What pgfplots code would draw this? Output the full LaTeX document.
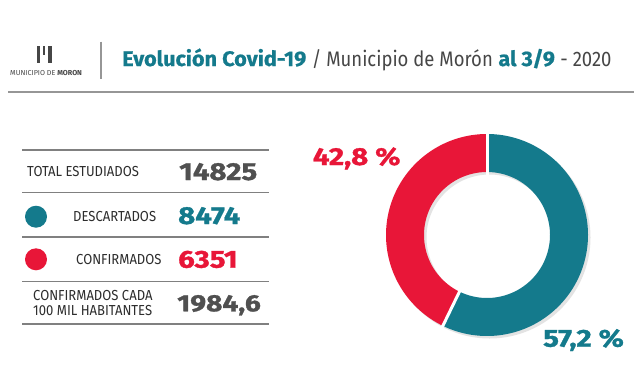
\documentclass[border=0pt]{standalone}
\usepackage{pgfplots}
\pgfplotsset{compat=1.18}
\usepackage{pgfplotstable}
\usepackage{fontspec}
\setmainfont{Fira Sans}
\newfontfamily\condfont{Fira Sans}[FakeStretch=0.9]
\newfontfamily\titlereg{Fira Sans}[FakeStretch=0.88]
\newfontfamily\titlebold{Fira Sans}[FakeBold=0.8, FakeStretch=1.03]
\newfontfamily\numfont{Fira Sans}[FakeBold=1.3, FakeStretch=1.2]
\definecolor{tealc}{RGB}{20,122,140}
\definecolor{redc}{RGB}{232,22,56}
\definecolor{numgray}{RGB}{80,80,80}
\definecolor{txtgray}{RGB}{45,45,45}
\definecolor{titlegray}{RGB}{70,70,70}
\definecolor{linegray}{RGB}{150,150,150}

\pgfplotstableread{
name pct
Descartados 57.2
Confirmados 42.8
}\donutdata
\pgfplotstablegetelem{0}{pct}\of\donutdata \let\pA\pgfplotsretval
\pgfmathsetmacro\aEnd{-90+3.6*\pA}

\begin{document}
\begin{tikzpicture}
\begin{axis}[
 scale only axis, width=640pt, height=388pt,
 xmin=0,xmax=640,ymin=0,ymax=388, y dir=reverse,
 hide axis, clip=false,
]
\fill[white] (axis cs:0,0) rectangle (axis cs:640,388);
% logo
\fill[titlegray] (axis cs:37.3,45.7) rectangle (axis cs:40,63.3);
\fill[titlegray] (axis cs:42.7,45.7) rectangle (axis cs:45,55);
\fill[titlegray] (axis cs:48.3,45.7) rectangle (axis cs:51.7,63.3);
\node[anchor=base west, inner sep=0, font=\fontsize{7.2}{8}\selectfont, titlegray] at (axis cs:10,75.7) {MUNICIPIO DE \textbf{MORON}};
\draw[linegray, line width=1.5pt] (axis cs:101,41.7) -- (axis cs:101,79.3);
% title
\node[anchor=base west, inner sep=0, font=\fontsize{21}{24}\selectfont] at (axis cs:122,66) {\textcolor{tealc}{\titlebold\bfseries Evolución Covid-19} \textcolor{titlegray}{\titlereg / Municipio de Morón} \textcolor{tealc}{\titlebold\bfseries al 3/9} \textcolor{titlegray}{\titlereg - 2020}};
\draw[linegray, line width=2pt] (axis cs:8,92) -- (axis cs:634,92);
% table lines
\foreach \yy in {150,192.7,237,281.7,324} {
  \edef\tmp{\noexpand\draw[gray, line width=1.3pt] (axis cs:22,\yy) -- (axis cs:269,\yy);}\tmp
}
\node[anchor=base west, inner sep=0, font=\condfont\fontsize{14.5}{16}\selectfont, txtgray] at (axis cs:27,176.7) {TOTAL ESTUDIADOS};
\node[anchor=base west, inner sep=0, font=\numfont\fontsize{24.5}{26}\selectfont\bfseries, numgray] at (axis cs:179,180) {14825};
\fill[tealc] (axis cs:36,216.7) circle[radius=11pt];
\node[anchor=base west, inner sep=0, font=\condfont\fontsize{14.5}{16}\selectfont, txtgray] at (axis cs:73,221.7) {DESCARTADOS};
\node[anchor=base west, inner sep=0, font=\numfont\fontsize{24.5}{26}\selectfont\bfseries, tealc] at (axis cs:178,224) {8474};
\fill[redc] (axis cs:36,259.3) circle[radius=11pt];
\node[anchor=base west, inner sep=0, font=\condfont\fontsize{14.5}{16}\selectfont, txtgray] at (axis cs:76,264) {CONFIRMADOS};
\node[anchor=base west, inner sep=0, font=\numfont\fontsize{24.5}{26}\selectfont\bfseries, redc] at (axis cs:178,267.7) {6351};
\node[anchor=base west, inner sep=0, font=\condfont\fontsize{14.5}{16}\selectfont, txtgray] at (axis cs:33,300.7) {CONFIRMADOS CADA};
\node[anchor=base west, inner sep=0, font=\condfont\fontsize{14.5}{16}\selectfont, txtgray] at (axis cs:33,315.3) {100 MIL HABITANTES};
\node[anchor=base west, inner sep=0, font=\numfont\fontsize{23.5}{26}\selectfont\bfseries, numgray] at (axis cs:177,311.3) {1984,6};
% donut
\addplot[gray!22, line width=38pt, domain=-90:270, samples=181] ({489.5+82*cos(x)},{237.5+82*sin(x)});
\addplot[tealc, line width=38pt, domain=-90:\aEnd, samples=150] ({487+82*cos(x)},{235+82*sin(x)});
\addplot[redc, line width=38pt, domain=\aEnd:270, samples=120] ({487+82*cos(x)},{235+82*sin(x)});
\addplot[white, line width=3pt, domain=55:110, samples=2] ({487+x*cos(-90)},{235+x*sin(-90)});
\addplot[white, line width=3pt, domain=55:110, samples=2] ({487+x*cos(\aEnd)},{235+x*sin(\aEnd)});
\node[anchor=base west, inner sep=0, font=\numfont\fontsize{24.5}{26}\selectfont\bfseries, redc] at (axis cs:312.7,165) {42,8 \%};
\node[anchor=base west, inner sep=0, font=\numfont\fontsize{24.5}{26}\selectfont\bfseries, tealc] at (axis cs:543,346.7) {57,2 \%};
\end{axis}
\end{tikzpicture}
\end{document}
